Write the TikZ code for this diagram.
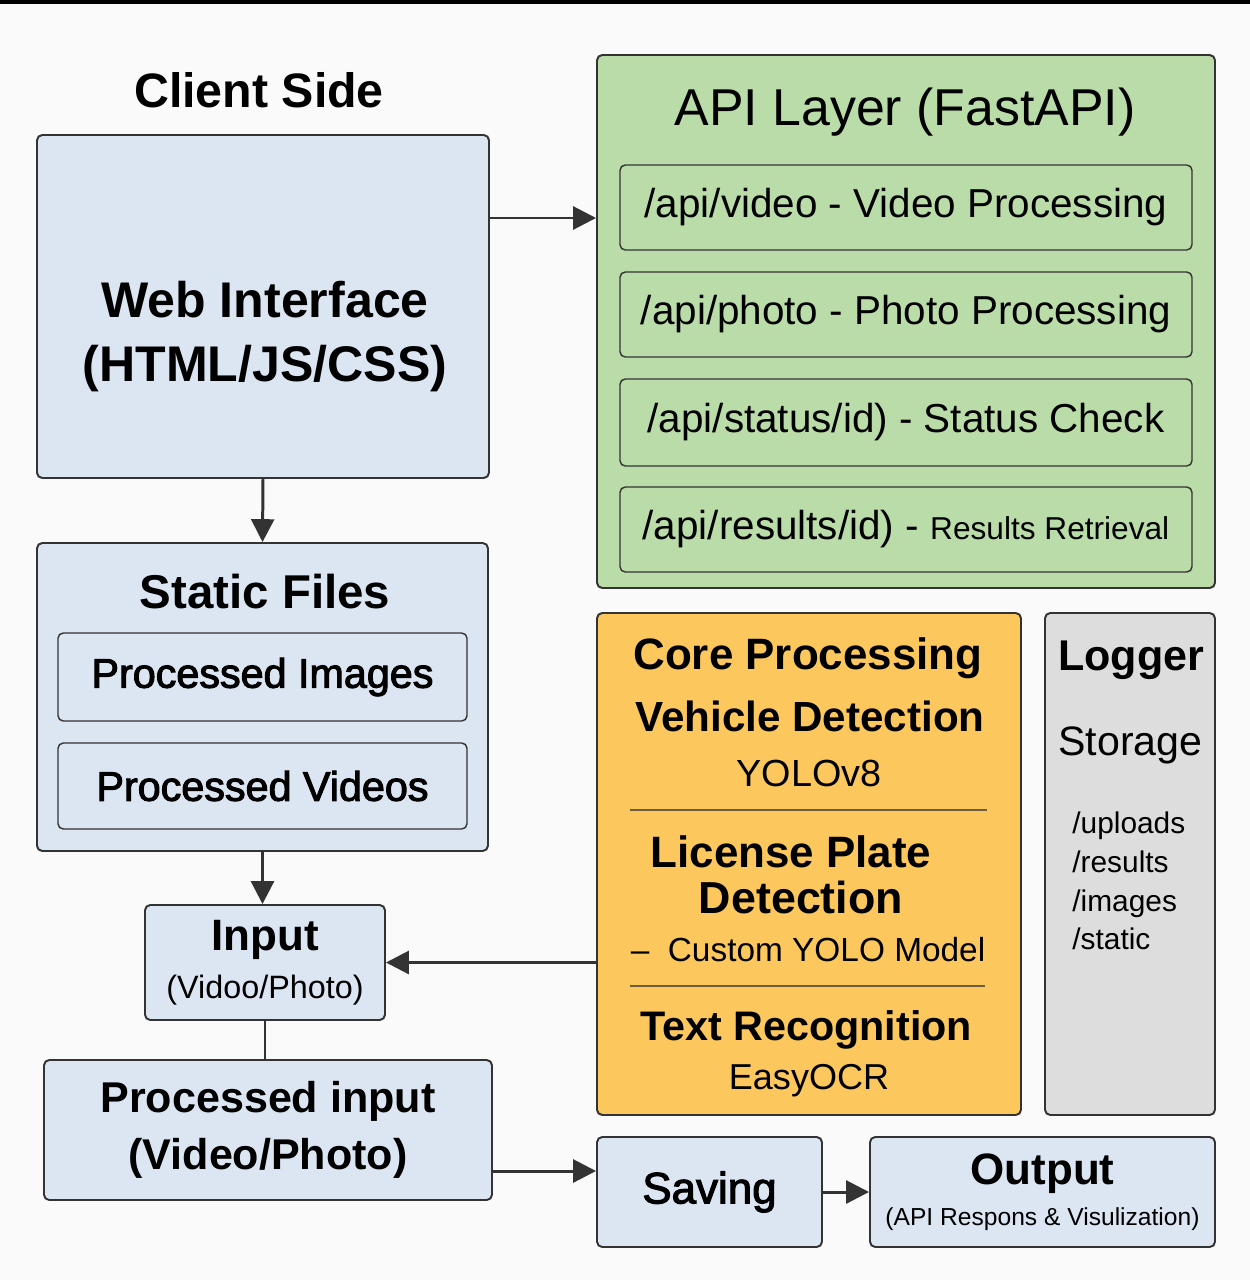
\documentclass[tikz,border=0pt]{standalone}
\usepackage{fontspec}
\setmainfont{Liberation Sans}
\newfontfamily\mediumfont[FakeBold=2.5]{Liberation Sans}
\usepackage{xcolor}
\usepackage{tikz}
\usetikzlibrary{positioning,calc,arrows.meta}
\definecolor{boxblue}{HTML}{DCE6F2}
\definecolor{apigreen}{HTML}{BADCA8}
\definecolor{coreorange}{HTML}{FCC85E}
\definecolor{loggray}{HTML}{DDDDDD}
\definecolor{linegray}{HTML}{333333}
\definecolor{bggray}{HTML}{FAFAFA}
\definecolor{divline}{HTML}{6B5D3F}

\tikzset{
  box/.style={draw=linegray, line width=1.1pt, rounded corners=3pt, inner sep=0pt, align=center},
  subbox/.style={draw=linegray, line width=0.8pt, rounded corners=3pt, inner sep=0pt, align=center},
  arr/.style={line width=1.7pt, draw=linegray, -{Triangle[length=13pt,width=13pt]}},
  plain/.style={line width=1.7pt, draw=linegray},
}

\begin{document}
\begin{tikzpicture}
  \useasboundingbox (0,0) rectangle (25,-25.6);
  \fill[bggray] (0,0) rectangle (25,-25.6);
  \fill[black] (0,0) rectangle (25,-0.08);

  % Client side (left column)
  \node[font=\bfseries\fontsize{27.5}{33}\selectfont] (clienttitle) at (5.18,-1.8) {Client Side};
  \node[box, fill=boxblue, minimum width=9.04cm, minimum height=6.86cm] (webui) at (5.26,-6.13) {};
  \node[align=center, font=\bfseries\fontsize{28.5}{36}\selectfont] (webuitxt) at (5.3,-6.73) {Web Interface\\(HTML/JS/CSS)};

  \node[box, fill=boxblue, minimum width=9.02cm, minimum height=6.16cm] (static) at (5.25,-13.94) {};
  \node[font=\bfseries\fontsize{27}{32}\selectfont] (statictitle) at (5.3,-11.84) {Static Files};
  \node[subbox, minimum width=8.18cm, minimum height=1.76cm, font=\mediumfont\fontsize{23.5}{28}\selectfont] (images) at (5.25,-13.54) {Processed Images};
  \node[subbox, minimum width=8.18cm, minimum height=1.72cm, font=\mediumfont\fontsize{23.5}{28}\selectfont] (videos) at (5.25,-15.72) {Processed Videos};

  \node[box, fill=boxblue, minimum width=4.8cm, minimum height=2.3cm, font=\fontsize{25}{27}\selectfont] (input) at (5.3,-19.25)
    {{\bfseries Input}\\{\fontsize{18.4}{27}\selectfont (Vidoo/Photo)}};
  \node[box, fill=boxblue, minimum width=8.96cm, minimum height=2.8cm, font=\bfseries\fontsize{24.5}{32.4}\selectfont] (procin) at (5.36,-22.6)
    {Processed input\\(Video/Photo)};

  % API layer
  \node[box, fill=apigreen, minimum width=12.36cm, minimum height=10.66cm] (api) at (18.12,-6.43) {};
  \node[font=\fontsize{29.5}{35}\selectfont] (apititle) at (18.1,-2.24) {API Layer (FastAPI)};
  \node[subbox, minimum width=11.44cm, minimum height=1.7cm, font=\fontsize{23}{28}\selectfont] (video) at (18.12,-4.15) {/api/video - Video Processing};
  \node[subbox, minimum width=11.44cm, minimum height=1.7cm, font=\fontsize{23}{28}\selectfont] (photo) at (18.12,-6.29) {/api/photo - Photo Processing};
  \node[subbox, minimum width=11.44cm, minimum height=1.74cm, font=\fontsize{23}{28}\selectfont] (status) at (18.12,-8.45) {/api/status/id) - Status Check};
  \node[subbox, minimum width=11.44cm, minimum height=1.7cm, font=\fontsize{23}{28}\selectfont] (results) at (18.12,-10.59)
    {/api/results/id) - {\fontsize{18}{22}\selectfont Results Retrieval}};

  % Core processing
  \node[box, fill=coreorange, minimum width=8.48cm, minimum height=10.04cm] (core) at (16.18,-17.28) {};
  \node[font=\bfseries\fontsize{25}{30}\selectfont] (coretitle) at (16.16,-13.16) {Core Processing};
  \node[font=\bfseries\fontsize{24}{29}\selectfont] (vehicle) at (16.2,-14.32) {Vehicle Detection};
  \node[font=\fontsize{21.5}{26}\selectfont] (yolo) at (16.18,-15.46) {YOLOv8};
  \draw[divline, line width=0.8pt] (12.6,-16.2) -- (19.74,-16.2);
  \node[font=\bfseries\fontsize{25}{30}\selectfont] (plate) at (15.82,-17.04) {License Plate};
  \node[font=\bfseries\fontsize{25.5}{30}\selectfont] (platedet) at (16.02,-17.94) {Detection};
  \node[font=\fontsize{19}{23}\selectfont] (custom) at (16.16,-19.0) {–\ \ Custom YOLO Model};
  \draw[divline, line width=0.8pt] (12.6,-19.72) -- (19.7,-19.72);
  \node[font=\bfseries\fontsize{23.5}{28}\selectfont] (textrec) at (16.12,-20.6) {Text Recognition};
  \node[font=\fontsize{20.5}{25}\selectfont] (easyocr) at (16.18,-21.62) {EasyOCR};

  % Logger / storage
  \node[box, fill=loggray, minimum width=3.4cm, minimum height=10.04cm] (logger) at (22.6,-17.28) {};
  \node[anchor=west, inner sep=0pt, font=\bfseries\fontsize{24.5}{29}\selectfont] (loggertitle) at (21.16,-13.2) {Logger};
  \node[anchor=west, inner sep=0pt, font=\fontsize{23.4}{28}\selectfont] (storage) at (21.16,-14.9) {Storage};
  \node[anchor=west, inner sep=0pt, align=left, font=\fontsize{17}{22}\selectfont] (dirs) at (21.44,-17.62)
    {/uploads\\/results\\/images\\/static};

  % Saving and output
  \node[box, fill=boxblue, minimum width=4.5cm, minimum height=2.2cm, font=\mediumfont\fontsize{25}{30}\selectfont] (saving) at (14.19,-23.84) {Saving};
  \node[box, fill=boxblue, minimum width=6.9cm, minimum height=2.2cm, font=\fontsize{25}{23}\selectfont] (output) at (20.85,-23.84)
    {{\bfseries Output}\\{\fontsize{14}{23}\selectfont (API Respons \& Visulization)}};

  % Connectors
  \draw[arr] ([yshift=1.77cm]webui.east) -- ([yshift=1.77cm]webui.east -| api.west);
  \draw[arr] (webui.south) -- (static.north);
  \draw[arr] (static.south) -- (static.south |- input.north);
  \draw[arr] (core.west |- input.east) -- (input.east);
  \draw[plain] (input.south) -- (input.south |- procin.north);
  \draw[arr] ([yshift=-0.82cm]procin.east) -- ([yshift=-0.82cm]procin.east -| saving.west);
  \draw[arr] (saving.east) -- (saving.east -| output.west);
\end{tikzpicture}
\end{document}
